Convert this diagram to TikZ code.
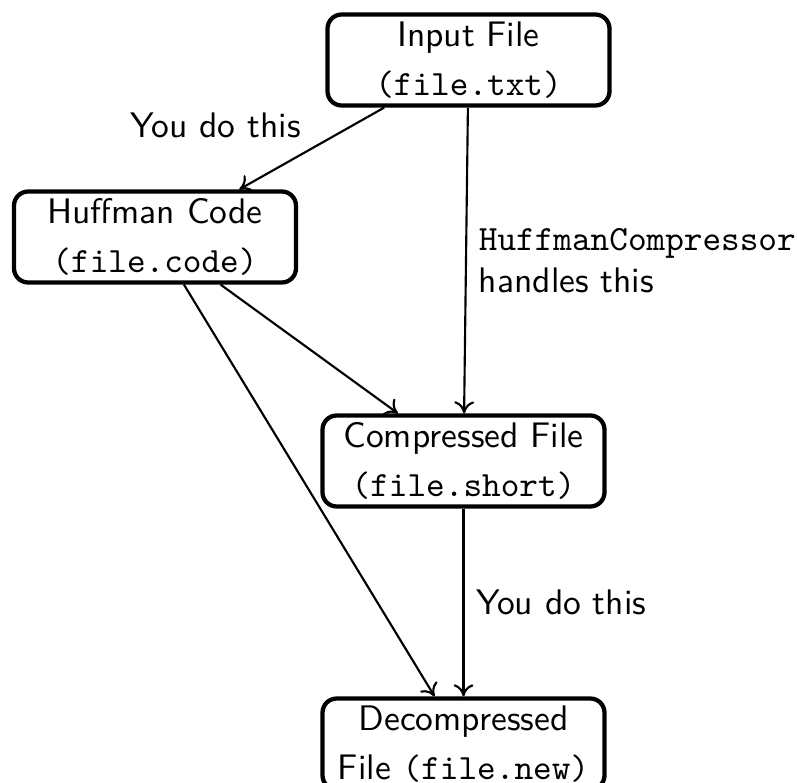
\documentclass[tikz,border=0pt]{standalone}
\usetikzlibrary{arrows.meta}
\begin{document}
\begin{tikzpicture}[x=0.2817pt,y=-0.2817pt,
  filebox/.style={draw,very thick,rounded corners=4pt,align=center,font=\sffamily,
    minimum width=282*0.2817pt,minimum height=91*0.2817pt,inner sep=0pt},
  flow/.style={-{To[length=3.4pt,width=5.6pt]},semithick},
  lbl/.style={font=\sffamily,align=left}]
\useasboundingbox (0,0) rectangle (797,783);
\node[filebox] (in) at (468.5,60) {Input File\\[2pt]\texttt{(file.txt)}};
\node[filebox] (huff) at (155,237) {Huffman Code\\[2pt]\texttt{(file.code)}};
\node[filebox] (comp) at (463.5,461) {Compressed File\\[2pt]\texttt{(file.short)}};
\node[filebox] (dec) at (463.5,744) {Decompressed\\[2pt]File \texttt{(file.new)}};
\draw[flow] (in) -- node[lbl,anchor=south east,xshift=0.5pt,yshift=-0.7pt] (l1) {You do this} (huff);
\draw[flow] (in) -- node[lbl,anchor=west,xshift=0pt] (l2) {\texttt{HuffmanCompressor}\\handles this} (comp);
\draw[flow] (huff) -- (comp);
\draw[flow] (huff) -- (dec);
\draw[flow] (comp) -- node[lbl,anchor=west,xshift=0pt] (l3) {You do this} (dec);
\end{tikzpicture}
\end{document}
